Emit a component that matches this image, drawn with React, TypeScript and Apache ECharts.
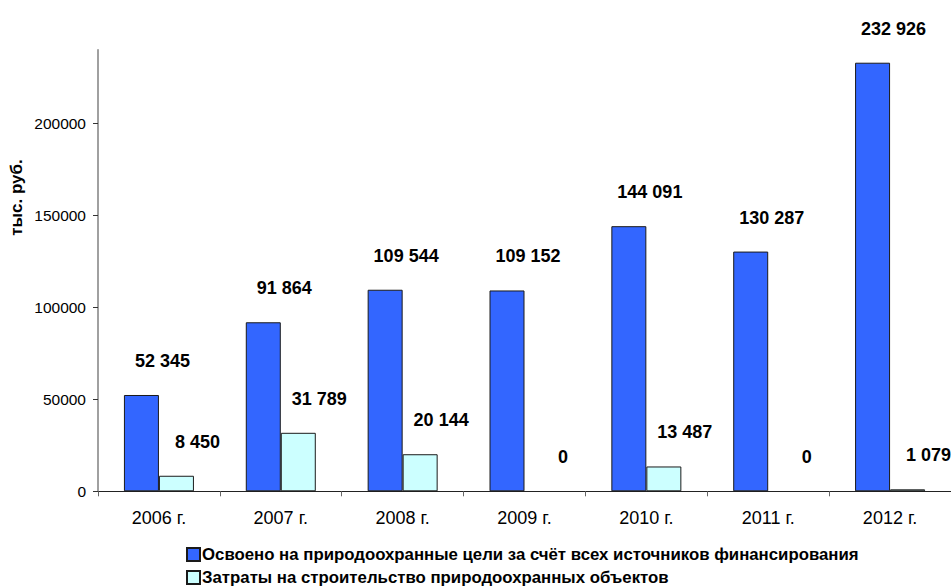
import React, { useEffect, useRef } from "react";
import * as echarts from "echarts";

const years = ["2006 г.", "2007 г.", "2008 г.", "2009 г.", "2010 г.", "2011 г.", "2012 г."];
const mastered = [52345, 91864, 109544, 109152, 144091, 130287, 232926];
const construction = [8450, 31789, 20144, 0, 13487, 0, 1079];
const yTicks = [0, 50000, 100000, 150000, 200000];
const seriesNames = [
  "Освоено на природоохранные цели за счёт всех источников финансирования",
  "Затраты на строительство природоохранных объектов",
];
const yAxisTitle = "тыс. руб.";

const fmt = (v: number) => String(Math.round(v)).replace(/\B(?=(\d{3})+(?!\d))/g, " ");

export default function App() {
  const ref = useRef<HTMLDivElement>(null);
  useEffect(() => {
    if (!ref.current) return;
    const chart = echarts.init(ref.current, undefined, { renderer: "svg" });
    const font = "Arial, 'Liberation Sans', sans-serif";
    const labelStyle = {
      show: true,
      position: "top" as const,
      distance: 25,
      offset: [21, 0],
      formatter: (p: any) => fmt(p.value),
      fontFamily: font,
      fontWeight: "bold" as const,
      fontSize: 18,
      color: "#000",
    };
    const toData = (arr: number[]) =>
      arr.map((v) => (v === 0 ? { value: v, itemStyle: { borderWidth: 0 } } : v));
    const legendBase = {
      orient: "horizontal" as const,
      left: 186,
      padding: 0,
      itemWidth: 13,
      itemHeight: 13,
      icon: "rect",
      textStyle: { fontFamily: font, fontWeight: "bold" as const, fontSize: 16.8, color: "#000", padding: [0, 0, 0, -3] },
    };
    chart.setOption({
      animation: false,
      backgroundColor: "#fff",
      textStyle: { fontFamily: font },
      grid: { left: 98, top: 49.7, width: 854, height: 441.6, containLabel: false },
      legend: [
        { ...legendBase, top: 546, data: [seriesNames[0]] },
        { ...legendBase, top: 569, data: [seriesNames[1]] },
      ],
      xAxis: {
        type: "category",
        data: years,
        axisLine: { lineStyle: { color: "#222", width: 1 } },
        axisTick: { show: true, alignWithLabel: false, length: 5, lineStyle: { color: "#666" } },
        axisLabel: { fontFamily: font, fontSize: 18, color: "#000", margin: 18 },
      },
      yAxis: {
        type: "value",
        min: 0,
        max: 240000,
        interval: 50000,
        splitLine: { show: false },
        axisLine: { show: true, lineStyle: { color: "#808080", width: 1.5 } },
        axisTick: { show: true, length: 5, lineStyle: { color: "#333" }, customValues: yTicks },
        axisLabel: {
          fontFamily: font,
          fontSize: 15.5,
          color: "#000",
          margin: 12,
          customValues: yTicks,
          formatter: (v: number) => String(v),
        },
      },
      graphic: [
        {
          type: "text",
          x: 16.5,
          y: 197.5,
          rotation: Math.PI / 2,
          style: {
            text: yAxisTitle,
            fontFamily: font,
            fontWeight: "bold",
            fontSize: 17,
            fill: "#000",
            align: "center",
            verticalAlign: "middle",
          },
        },
      ],
      series: [
        {
          name: seriesNames[0],
          type: "bar",
          data: toData(mastered),
          barWidth: 35,
          barGap: "0%",
          itemStyle: { color: "#3366FF", borderColor: "#1a1a1a", borderWidth: 1 },
          label: labelStyle,
        },
        {
          name: seriesNames[1],
          type: "bar",
          data: toData(construction),
          barWidth: 35,
          barGap: "0%",
          itemStyle: { color: "#CCFFFF", borderColor: "#1a1a1a", borderWidth: 1 },
          label: labelStyle,
        },
      ],
    });
    return () => chart.dispose();
  }, []);
  return (
    <div
      ref={ref}
      style={{ position: "fixed", left: 0, top: 0, width: 951, height: 586, background: "#fff" }}
    />
  );
}
